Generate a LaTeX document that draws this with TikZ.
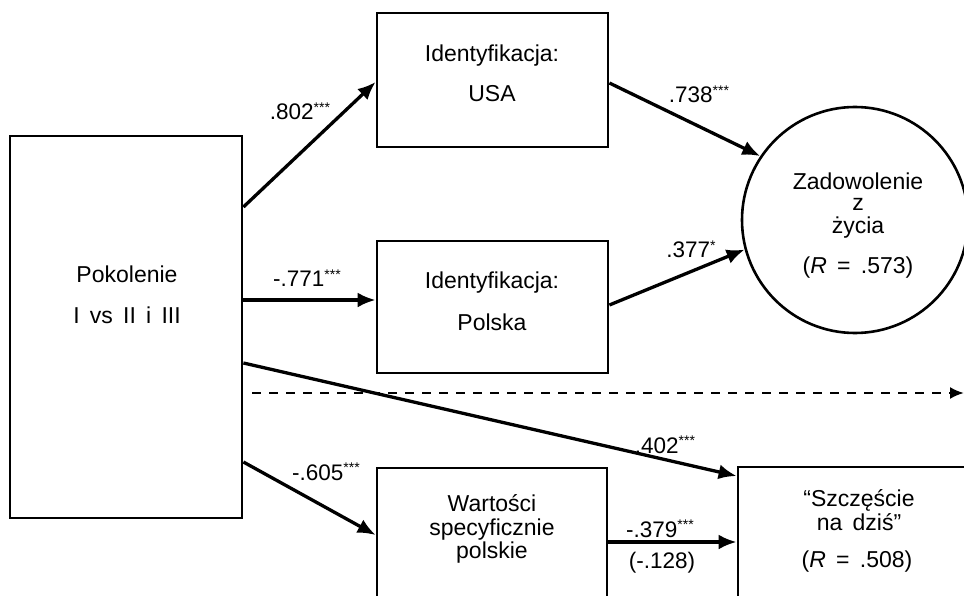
\documentclass[tikz,border=0pt]{standalone}
\usepackage{fontspec}
\setmainfont{Liberation Sans}
\usetikzlibrary{arrows.meta}
\newcommand{\stars}[1]{\raisebox{0.33em}{\fontsize{14}{14}\selectfont #1}}
\begin{document}
\begin{tikzpicture}[x=1pt,y=-1pt,
  box/.style={draw, line width=2.8pt, inner sep=0pt},
  circ/.style={draw, circle, line width=2.6pt, inner sep=0pt},
  txt/.style={anchor=base, inner sep=0pt, font=\fontsize{23}{26}\selectfont},
  lab/.style={anchor=base, inner sep=0pt, font=\fontsize{22.5}{26}\selectfont},
  arr/.style={-{Latex[length=18pt,width=15pt]}, line width=3.3pt},
  dsh/.style={-{Latex[length=14pt,width=12pt]}, line width=2.3pt, dash pattern=on 9pt off 8pt}]
\useasboundingbox (0,0) rectangle (964,596);
\clip (0,0) rectangle (964,596);
\fill[white] (0,0) rectangle (964,596);
% boxes
\node[box, minimum width=232pt, minimum height=382pt] (pok) at (126,327) {};
\node[box, minimum width=231pt, minimum height=134pt] (usa) at (492.5,80) {};
\node[box, minimum width=231pt, minimum height=132pt] (pol) at (492.5,307) {};
\node[box, minimum width=230pt, minimum height=172pt] (war) at (492,554) {};
\node[box, minimum width=262pt, minimum height=173pt] (sz) at (869,553.5) {};
\node[circ, minimum size=226pt] (zad) at (855,220) {};
% texts
\node[txt] (t1) at (127,283) {Pokolenie};
\node[txt] (t2) at (127,323) {I\, vs\, II\, i\, III};
\node[txt] (t3) at (492,62) {Identyfikacja:};
\node[txt] (t4) at (492,102) {USA};
\node[txt] (t5) at (492,288) {Identyfikacja:};
\node[txt] (t6) at (492,330) {Polska};
\node[txt] (t7) at (858,190) {Zadowolenie};
\node[txt] (t8) at (858,211) {z};
\node[txt] (t9) at (858,234) {życia};
\node[txt] (t10) at (858,273) {(\textit{R}\, =\, .573)};
\node[txt] (t11) at (492,511) {Wartości};
\node[txt] (t12) at (492,535) {specyficznie};
\node[txt] (t13) at (492,558) {polskie};
\node[txt] (t14) at (859,506) {``Szczęście};
\node[txt] (t15) at (859,530) {na\, dziś''};
\node[txt] (t16) at (857,567) {(\textit{R}\, =\, .508)};
% connectors
\draw[arr] (pok.east |- 0,207) -- (usa.west |- 0,82);
\draw[arr] (usa.east |- 0,83) -- (zad.146);
\draw[arr] (pok.east |- 0,300) -- (pol.west |- 0,300);
\draw[arr] (pol.east |- 0,305) -- (zad.195);
\draw[arr] (pok.east |- 0,363) -- (sz.west |- 0,476);
\draw[arr] (pok.east |- 0,462) -- (war.west |- 0,535);
\draw[arr] (war.east |- 0,542) -- (sz.west |- 0,542);
\coordinate (ds) at (252,393);
\coordinate (de) at (964,393);
\draw[dsh] (ds) -- (de);
% labels
\node[lab] (l1) at (300,120) {.802\stars{***}};
\node[lab] (l2) at (699,103) {.738\stars{***}};
\node[lab] (l3) at (307,287) {-.771\stars{***}};
\node[lab] (l4) at (691,258) {.377\stars{*}};
\node[lab] (l5) at (665,453) {.402\stars{***}};
\node[lab] (l6) at (326,480) {-.605\stars{***}};
\node[lab] (l7) at (660,537) {-.379\stars{***}};
\node[lab] (l8) at (662,568) {(-.128)};
\end{tikzpicture}
\end{document}
